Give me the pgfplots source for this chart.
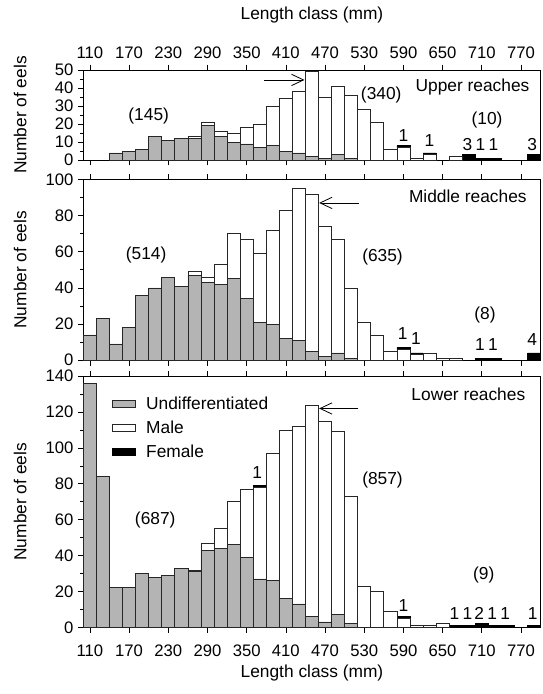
\documentclass[border=0pt]{standalone}
\usepackage{fontspec}
\setmainfont{Liberation Sans}
\usepackage{pgfplots}
\usepackage{pgfplotstable}
\pgfplotsset{compat=1.18}
\usetikzlibrary{arrows.meta}

\definecolor{undiff}{RGB}{180,180,180}

% Length class (mm), undifferentiated, male, female counts
\pgfplotstableread{
x und male fem
110 0 0 0
130 0 0 0
150 4 0 0
170 5 0 0
190 6 0 0
210 13 0 0
230 11 0 0
250 12 0 0
270 12 1 0
290 19 2 0
310 13 3 0
330 10 5 0
350 9 9 0
370 7 13 0
390 8 22 0
410 5 29 0
430 4 34 0
450 2 47 0
470 1 34 0
490 3 38 0
510 1 35 0
530 0 28 0
550 0 21 0
570 0 6 0
590 0 7 1
610 0 1 0
630 0 3 1
650 0 0 0
670 0 2 0
690 0 0 3
710 0 0 1
730 0 0 1
750 0 0 0
770 0 0 0
790 0 0 3
}\upperdata

\pgfplotstableread{
x und male fem
110 14 0 0
130 23 0 0
150 9 0 0
170 18 0 0
190 36 0 0
210 40 0 0
230 46 0 0
250 41 0 0
270 47 2 0
290 43 3 0
310 42 11 0
330 45 25 0
350 34 33 0
370 21 38 0
390 20 52 0
410 12 71 0
430 11 84 0
450 5 87 0
470 2 72 0
490 4 63 0
510 1 39 0
530 0 21 0
550 0 14 0
570 0 5 0
590 0 6 1
610 0 3 1
630 0 4 0
650 0 1 0
670 0 1 0
690 0 0 0
710 0 0 1
730 0 0 1
750 0 0 0
770 0 0 0
790 0 0 4
}\middledata

\pgfplotstableread{
x und male fem
110 136 0 0
130 84 0 0
150 22 0 0
170 22 0 0
190 30 0 0
210 28 0 0
230 29 0 0
250 33 0 0
270 31 1 0
290 43 4 0
310 44 11 0
330 46 24 0
350 39 38 0
370 27 51 1
390 26 71 0
410 16 94 0
430 13 99 0
450 6 118 0
470 3 112 0
490 7 102 0
510 2 71 0
530 0 23 0
550 0 20 0
570 0 9 0
590 0 5 1
610 0 1 0
630 0 1 0
650 0 2 0
670 0 0 1
690 0 0 1
710 0 0 2
730 0 0 1
750 0 0 1
770 0 0 0
790 0 0 1
}\lowerdata

\newcommand{\labfont}{\fontsize{13}{15}\selectfont}

\tikzset{
  note/.style={font=\labfont, inner sep=0pt},
  arr/.style={-{Straight Barb[length=9pt,width=8.5pt,line width=0.6pt]}, line width=0.6pt},
}

\pgfplotsset{
  panel/.style={
    scale only axis,
    width=342.75pt,
    xmin=100, xmax=800,
    xtick={110,170,...,770},
    xtick pos=both,
    ytick pos=left,
    tick align=outside,
    major tick length=4pt,
    minor tick length=2.5pt,
    minor y tick num=1,
    axis line style={line width=0.6pt},
    every tick/.style={black, line width=0.5pt},
    /pgf/number format/assume math mode=true,
    tick label style={font=\fontsize{12.5}{14}\selectfont},
    ylabel={Number of eels},
    every axis y label/.style={at={(axis description cs:-0.138,0.5)}, anchor=center, rotate=90, font=\labfont},
    ymin=0,
    ybar stacked,
    bar width=20,
    clip=false,
  },
  und/.style={fill=undiff, draw=black!85, line width=0.55pt, area legend},
  mal/.style={fill=white, draw=black!85, line width=0.55pt, area legend},
  fem/.style={fill=black, draw=black, line width=0.55pt, area legend},
}

\begin{document}
\begin{tikzpicture}
% Upper reaches
\begin{axis}[panel, name=upper,
    at={(0pt,0pt)}, anchor=north west,
    height=67.5pt, ymax=50, ytick={0,10,...,50},
    xticklabel pos=right,
    xticklabel style={yshift=1.3pt},
    xlabel={Length class (mm)},
    every axis x label/.style={at={(axis description cs:0.5,1.611)}, anchor=center, font=\labfont},
  ]
  \addplot[und] table[x=x, y=und] {\upperdata};
  \addplot[mal] table[x=x, y=male] {\upperdata};
  \addplot[fem] table[x=x, y=fem] {\upperdata};
  \node[note] at (axis cs:200,24.4) {(145)};
  \node[note] at (axis cs:556,36) {(340)};
  \node[note] at (axis cs:718,22.2) {(10)};
  \node[note] at (axis cs:590,13.9) {1};
  \node[note] at (axis cs:630,11.1) {1};
  \node[note] at (axis cs:688,8.9) {3};
  \node[note] at (axis cs:708,8.9) {1};
  \node[note] at (axis cs:728,8.9) {1};
  \node[note] at (axis cs:787,8.9) {3};
  \node[note, anchor=east] at (rel axis cs:0.976,0.814) {Upper reaches};
  \draw[arr] (axis cs:377,44.5) -- (axis cs:438.5,44.5);
\end{axis}

% Middle reaches
\begin{axis}[panel, name=middle,
    at={(0pt,-82pt)}, anchor=north west,
    height=135.5pt, ymax=100, ytick={0,20,...,100},
    xticklabels={},
  ]
  \addplot[und] table[x=x, y=und] {\middledata};
  \addplot[mal] table[x=x, y=male] {\middledata};
  \addplot[fem] table[x=x, y=fem] {\middledata};
  \node[note] at (axis cs:196,58.1) {(514)};
  \node[note] at (axis cs:558,57.2) {(635)};
  \node[note] at (axis cs:715,24.9) {(8)};
  \node[note] at (axis cs:589,14.8) {1};
  \node[note] at (axis cs:609,12) {1};
  \node[note] at (axis cs:707,8.9) {1};
  \node[note] at (axis cs:727,8.9) {1};
  \node[note] at (axis cs:787,11.4) {4};
  \node[note, anchor=east] at (rel axis cs:0.970,0.908) {Middle reaches};
  \draw[arr] (axis cs:522,87) -- (axis cs:461,87);
\end{axis}

% Lower reaches
\begin{axis}[panel, name=lower,
    at={(0pt,-229.5pt)}, anchor=north west,
    height=188.25pt, ymax=140, ytick={0,20,...,140},
    xticklabel pos=left,
    xticklabel style={yshift=-5.5pt},
    xlabel={Length class (mm)},
    every axis x label/.style={at={(axis description cs:0.5,-0.1833)}, anchor=center, font=\labfont},
    legend cell align=left,
    legend style={at={(axis description cs:0.062,0.93)}, anchor=north west,
      draw=none, fill=none, font=\labfont,
      row sep=3pt, inner sep=0pt,
      nodes={inner sep=2pt}},
    legend image code/.code={\draw[#1] (0pt,-3.75pt) rectangle (29.25pt,3.75pt);},
  ]
  \addplot[und] table[x=x, y=und] {\lowerdata};
  \addlegendentry{\hspace{6pt}Undifferentiated}
  \addplot[mal] table[x=x, y=male] {\lowerdata};
  \addlegendentry{\hspace{6pt}Male}
  \addplot[fem] table[x=x, y=fem] {\lowerdata};
  \addlegendentry{\hspace{6pt}Female}
  \node[note] at (axis cs:210,59.8) {(687)};
  \node[note] at (axis cs:366,86.1) {1};
  \node[note] at (axis cs:558,82) {(857)};
  \node[note] at (axis cs:713,29.1) {(9)};
  \node[note] at (axis cs:590,12.4) {1};
  \node[note] at (axis cs:668,7.8) {1};
  \node[note] at (axis cs:688,7.8) {1};
  \node[note] at (axis cs:706,7.8) {2};
  \node[note] at (axis cs:726,7.8) {1};
  \node[note] at (axis cs:746,7.8) {1};
  \node[note] at (axis cs:788,7.8) {1};
  \node[note, anchor=east] at (rel axis cs:0.967,0.929) {Lower reaches};
  \draw[arr] (axis cs:521,122) -- (axis cs:461,122);
\end{axis}

% page extent around the three panels
\path ([xshift=-62.5pt,yshift=-50pt]lower.south west) rectangle ([xshift=1.25pt,yshift=52.5pt]upper.north east);
\end{tikzpicture}
\end{document}
